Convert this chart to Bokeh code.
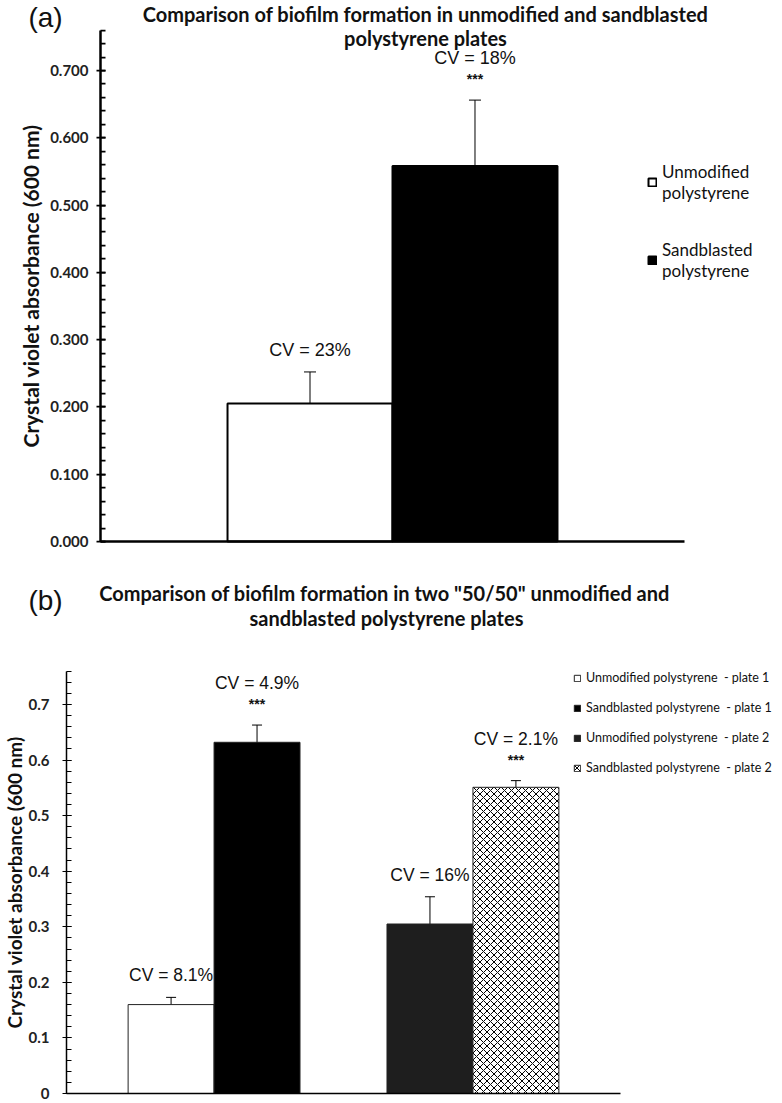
from bokeh.plotting import figure
from bokeh.models import (ColumnDataSource, Whisker, TeeHead, Label, Legend, LegendItem,
                          NumeralTickFormatter, FixedTicker, Range1d, SingleIntervalTicker)
from bokeh.layouts import column
from bokeh.embed import file_html
from bokeh.resources import INLINE
from bokeh.core.properties import value

# ---------------- data: panel (a) ----------------
a_labels = ["Unmodified\npolystyrene", "Sandblasted\npolystyrene"]
a_means = [0.205, 0.558]
a_sd = [0.047, 0.098]
a_cv = ["CV = 23%", "CV = 18%"]
a_sig = ["", "***"]
a_fill = ["#ffffff", "#000000"]

# ---------------- data: panel (b) ----------------
b_labels = ["Unmodified polystyrene  - plate 1", "Sandblasted polystyrene  - plate 1",
            "Unmodified polystyrene  - plate 2", "Sandblasted polystyrene  - plate 2"]
b_plate = [1, 1, 2, 2]
b_means = [0.160, 0.632, 0.305, 0.551]
b_sd = [0.013, 0.031, 0.049, 0.012]
b_cv = ["CV = 8.1%", "CV = 4.9%", "CV = 16%", "CV = 2.1%"]
b_sig = ["", "***", "", "***"]
b_fill = ["#ffffff", "#000000", "#1e1e1e", "#ffffff"]
b_hatch = [" ", " ", " ", "x"]

TITLE_FONT = "Lato"
NUM_FONT = "Liberation Sans"
TXT = "#111111"
W = 782


def make_fig(H, xlim, ylim, px_left, px_right, px_base, px_per_y):
    """Frame covers the whole canvas; axes are pinned with fixed_location."""
    sx = (px_right - px_left) / (xlim[1] - xlim[0])
    x0 = xlim[0] - px_left / sx
    x1 = xlim[0] + (W - px_left) / sx
    y0 = -(H - px_base) / px_per_y
    y1 = px_base / px_per_y
    p = figure(width=W, height=H, output_backend="svg", toolbar_location=None,
               x_range=Range1d(x0, x1), y_range=Range1d(y0, y1),
               min_border=0, min_border_left=0, min_border_right=0,
               min_border_top=0, min_border_bottom=0)
    p.xgrid.visible = False
    p.ygrid.visible = False
    p.outline_line_color = None
    p.background_fill_color = "white"
    p.border_fill_color = "white"
    return p


def style_axes(p, xlim, ylim, fmt, lw, tick_standoff, lab_standoff, lab_size):
    ax = p.yaxis[0]
    ax.fixed_location = xlim[0]
    ax.bounds = ylim
    ax.ticker = SingleIntervalTicker(interval=0.1, num_minor_ticks=5)
    ax.formatter = NumeralTickFormatter(format=fmt)
    ax.axis_line_width = lw
    ax.axis_line_color = "black"
    ax.major_tick_line_width = max(1, lw * 0.7)
    ax.minor_tick_line_width = max(1, lw * 0.7)
    ax.major_tick_line_color = "black"
    ax.minor_tick_line_color = "black"
    ax.major_tick_out = 4
    ax.major_tick_in = 5
    ax.minor_tick_out = 0
    ax.minor_tick_in = 5
    ax.major_label_text_font = TITLE_FONT
    ax.major_label_text_font_style = "bold"
    ax.major_label_text_font_size = "15px"
    ax.major_label_text_color = "#222222"
    ax.major_label_standoff = tick_standoff
    ax.axis_label = "Crystal violet absorbance (600 nm)"
    ax.axis_label_text_font = TITLE_FONT
    ax.axis_label_text_font_style = "bold"
    ax.axis_label_text_font_size = lab_size
    ax.axis_label_text_color = TXT
    ax.axis_label_standoff = lab_standoff

    bx = p.xaxis[0]
    bx.fixed_location = ylim[0]
    bx.bounds = xlim
    bx.ticker = FixedTicker(ticks=[])
    bx.axis_line_width = lw
    bx.axis_line_color = "black"
    bx.major_tick_out = 0
    bx.major_tick_in = 0
    bx.minor_tick_out = 0
    bx.minor_tick_in = 0
    bx.major_label_text_font_size = "0px"


def add_label(p, H, top, txt, X, Y, size, style, font):
    p.add_layout(Label(x=X, y=H - (Y - top), x_units="screen", y_units="screen", text=txt,
                       text_align="center", text_baseline="middle", text_font=font,
                       text_font_size=size, text_font_style=style, text_color=TXT))


# ================= panel (a) =================
HA = 552
xlim_a = (0.5, 1.5)
ylim_a = (0, 0.76)
pa = make_fig(HA, xlim_a, ylim_a, px_left=100, px_right=684, px_base=541, px_per_y=(541 - 70) / 0.7)
bw_a = 0.2825
a_x = [1 + (i - 0.5) * bw_a for i in range(len(a_means))]
src_a = ColumnDataSource(dict(
    x=a_x, top=a_means,
    upper=[m + s for m, s in zip(a_means, a_sd)],
    lower=[m - s for m, s in zip(a_means, a_sd)],
    cv=a_cv, sig=a_sig,
    cv_off=[-42 if s else -22 for s in a_sig],
))
rects_a = []
for i in range(len(a_means)):
    rects_a.append(pa.vbar(x=a_x[i], top=a_means[i], bottom=0, width=bw_a, fill_color=a_fill[i],
                           line_color="black", line_width=2))
pa.add_layout(Whisker(source=src_a, base="x", upper="upper", lower="lower",
                      line_color="black", line_width=1,
                      upper_head=TeeHead(size=12, line_width=1, line_color="black"),
                      lower_head=TeeHead(size=12, line_width=1, line_color="black")))
pa.text(x="x", y="upper", text="cv", source=src_a, text_align="center", text_baseline="middle",
        text_font=value(NUM_FONT), text_font_size="18px", y_offset="cv_off", text_color=TXT)
pa.text(x="x", y="upper", text="sig", source=src_a, text_align="center", text_baseline="middle",
        text_font=value(NUM_FONT), text_font_size="14px", text_font_style="bold", y_offset=-21,
        text_color=TXT)
style_axes(pa, xlim_a, ylim_a, "0.000", 2.5, 8, 4, "21px")

leg_a = Legend(items=[LegendItem(label=a_labels[i], renderers=[rects_a[i]]) for i in range(2)],
               location=(647, HA - 281), orientation="vertical",
               glyph_width=10, glyph_height=10, label_standoff=5, spacing=36,
               padding=0, margin=0, border_line_color=None, background_fill_alpha=0,
               label_text_font=TITLE_FONT, label_text_font_size="17px", label_text_color=TXT,
               label_text_line_height=1.4)
pa.add_layout(leg_a)

add_label(pa, HA, 0, "(a)", 45, 17, "28px", "normal", NUM_FONT)
add_label(pa, HA, 0, "Comparison of biofilm formation in unmodified and sandblasted", 425, 13, "20px", "bold", TITLE_FONT)
add_label(pa, HA, 0, "polystyrene plates", 425, 37, "20px", "bold", TITLE_FONT)

# ================= panel (b) =================
HB = 550
TOPB = HA
xlim_b = (0.43, 2.57)
ylim_b = (0, 0.76)
pb = make_fig(HB, xlim_b, ylim_b, px_left=66, px_right=620, px_base=1093 - TOPB,
              px_per_y=(1093 - 704) / 0.7)
bw_b = 0.332
b_side = [-0.5, 0.5, -0.5, 0.5]
b_x = [pl + sd * bw_b for pl, sd in zip(b_plate, b_side)]
src_b = ColumnDataSource(dict(
    x=b_x, top=b_means,
    upper=[m + s for m, s in zip(b_means, b_sd)],
    lower=[m - s for m, s in zip(b_means, b_sd)],
    cv=b_cv, sig=b_sig,
    cv_off=[-42 if s else -22 for s in b_sig],
))
rects_b = []
for i in range(len(b_means)):
    rects_b.append(pb.vbar(x=b_x[i], top=b_means[i], bottom=0, width=bw_b, fill_color=b_fill[i],
                           line_color="#222222", line_width=1,
                           hatch_pattern=b_hatch[i], hatch_color="black", hatch_scale=7,
                           hatch_weight=1))
pb.add_layout(Whisker(source=src_b, base="x", upper="upper", lower="lower",
                      line_color="black", line_width=1,
                      upper_head=TeeHead(size=10, line_width=1, line_color="black"),
                      lower_head=TeeHead(size=10, line_width=1, line_color="black")))
pb.text(x="x", y="upper", text="cv", source=src_b, text_align="center", text_baseline="middle",
        text_font=value(NUM_FONT), text_font_size="17.5px", y_offset="cv_off", text_color=TXT)
pb.text(x="x", y="upper", text="sig", source=src_b, text_align="center", text_baseline="middle",
        text_font=value(NUM_FONT), text_font_size="14px", text_font_style="bold", y_offset=-21,
        text_color=TXT)
style_axes(pb, xlim_b, ylim_b, "0.[0]", 1.5, 13, 0, "19px")

leg_b = Legend(items=[LegendItem(label=b_labels[i], renderers=[rects_b[i]]) for i in range(4)],
               location=(573, HB - (775 - TOPB)), orientation="vertical",
               glyph_width=8, glyph_height=8, label_standoff=5, spacing=15,
               padding=0, margin=0, border_line_color=None, background_fill_alpha=0,
               label_text_font=TITLE_FONT, label_text_font_size="12.5px", label_text_color=TXT)
pb.add_layout(leg_b)

add_label(pb, HB, TOPB, "(b)", 45, 600, "28px", "normal", NUM_FONT)
add_label(pb, HB, TOPB, 'Comparison of biofilm formation in two "50/50" unmodified and', 384, 592, "20px", "bold", TITLE_FONT)
add_label(pb, HB, TOPB, "sandblasted polystyrene plates", 386, 617, "20px", "bold", TITLE_FONT)

layout = column(pa, pb, spacing=0)
open("out.html", "w").write(file_html(layout, INLINE))
